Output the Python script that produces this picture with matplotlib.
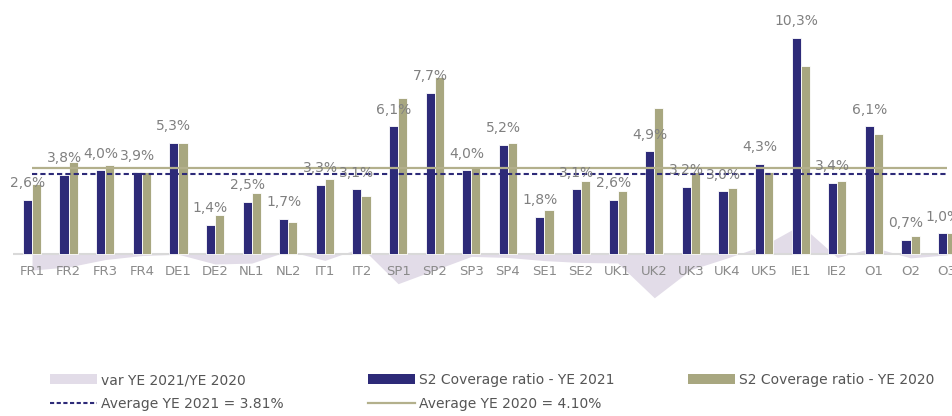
import matplotlib
matplotlib.use("Agg")
import matplotlib.pyplot as plt
from matplotlib.patches import Patch
from matplotlib.lines import Line2D
import numpy as np

# data
cats = ["FR1", "FR2", "FR3", "FR4", "DE1", "DE2", "NL1", "NL2", "IT1", "IT2",
        "SP1", "SP2", "SP3", "SP4", "SE1", "SE2", "UK1", "UK2", "UK3", "UK4",
        "UK5", "IE1", "IE2", "O1", "O2", "O3"]
ye2021 = [2.6, 3.8, 4.0, 3.9, 5.3, 1.4, 2.5, 1.7, 3.3, 3.1,
          6.1, 7.7, 4.0, 5.2, 1.8, 3.1, 2.6, 4.9, 3.2, 3.0,
          4.3, 10.3, 3.4, 6.1, 0.7, 1.0]
ye2020 = [3.35, 4.4, 4.25, 3.9, 5.3, 1.86, 2.92, 1.52, 3.59, 2.78,
          7.46, 8.46, 4.1, 5.31, 2.1, 3.49, 3.0, 6.97, 3.9, 3.17,
          3.9, 8.95, 3.5, 5.73, 0.87, 1.03]
var = [-0.75, -0.6, -0.25, -0.06, 0.0, -0.46, -0.42, 0.16, -0.29, 0.32,
       -1.4, -0.75, -0.1, -0.15, -0.3, -0.39, -0.41, -2.07, -0.73, -0.17,
       0.43, 1.4, -0.15, 0.33, -0.17, -0.03]
labels = ["2,6%", "3,8%", "4,0%", "3,9%", "5,3%", "1,4%", "2,5%", "1,7%", "3,3%", "3,1%",
          "6,1%", "7,7%", "4,0%", "5,2%", "1,8%", "3,1%", "2,6%", "4,9%", "3,2%", "3,0%",
          "4,3%", "10,3%", "3,4%", "6,1%", "0,7%", "1,0%"]
avg2021 = 3.81
avg2020 = 4.10

navy = "#2d2a78"
olive = "#a8a780"
lav = "#e2dce8"

fig = plt.figure(figsize=(9.53, 4.16), dpi=100)
ax = fig.add_axes([13 / 953, 1 - 310 / 416, 940 / 953, 310 / 416])

x = np.arange(len(cats))
w = 0.25

ax.fill_between(x, 0, var, color=lav, lw=0, zorder=1)
ax.axhline(0, color="#d9d9d9", lw=1.5, zorder=2)
ax.bar(x - w / 2, ye2021, w, color=navy, edgecolor="white", linewidth=0.6, zorder=3)
ax.bar(x + w / 2, ye2020, w, color=olive, edgecolor="white", linewidth=0.6, zorder=3)
ax.hlines(avg2020, x[0], x[-1], color="#b3b08c", lw=1.6, zorder=4)
ax.hlines(avg2021, x[0], x[-1], color=navy, lw=1.5, linestyles=(0, (2.5, 1.5)), zorder=4)

for i, v in enumerate(ye2021):
    ax.annotate(labels[i], (x[i] - w / 2, v), xytext=(0, 12), textcoords="offset points",
                ha="center", va="center", fontsize=10, color="#808080", zorder=5)

# category names sit just under the baseline, over the var area
for i, c in enumerate(cats):
    ax.text(x[i], -0.82, c, ha="center", va="center", fontsize=9.5, color="#8a8a8a", zorder=6)

ax.set_xlim(-0.52, 25.16)
ax.set_ylim(-(310 - 254.3) / 21.0, 254.3 / 21.0)
ax.set_xticks([])
ax.set_yticks([])
for s in ax.spines.values():
    s.set_visible(False)

leg_font = dict(family=["Liberation Sans Narrow", "DejaVu Sans"], size=10)
cols = [
    ([Patch(facecolor=lav), Line2D([], [], color=navy, lw=1.5, ls=(0, (2, 1.2)))],
     ["var YE 2021/YE 2020", "Average YE 2021 = 3.81%"], 50),
    ([Patch(facecolor=navy), Line2D([], [], color="#b3b08c", lw=1.6)],
     ["S2 Coverage ratio - YE 2021", "Average YE 2020 = 4.10%"], 368),
    ([Patch(facecolor=olive)], ["S2 Coverage ratio - YE 2020"], 688),
]
for hs, ls, px in cols:
    lg = fig.legend(hs, ls, loc="upper left", bbox_to_anchor=(px / 953, 1 - 373 / 416),
                    frameon=False, borderpad=0, borderaxespad=0, handlelength=3.4,
                    handleheight=0.8, handletextpad=0.3, labelspacing=0.75, prop=leg_font)
    for t in lg.get_texts():
        t.set_color("#555555")

fig.savefig("out.png", dpi=100)
